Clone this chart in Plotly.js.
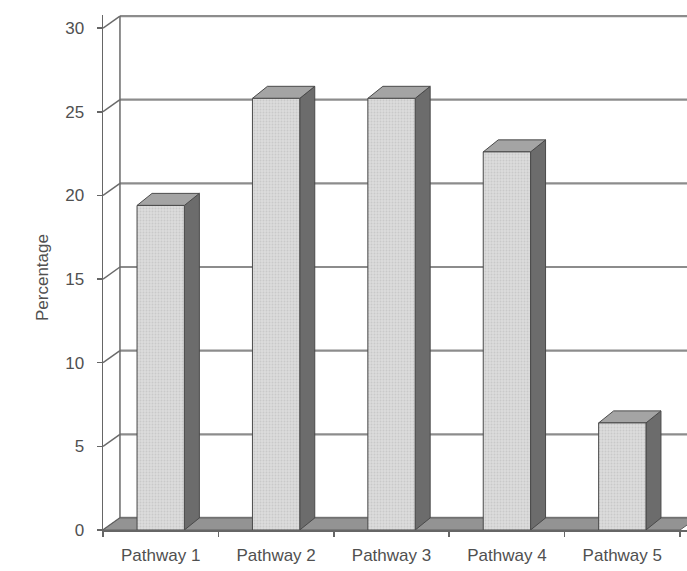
<!DOCTYPE html>
<html>
<head>
<meta charset="utf-8">
<script src="https://cdn.plot.ly/plotly-3.0.1.min.js"></script>
<style>html,body{margin:0;padding:0;background:#fff}#chart{width:687px;height:571px}</style>
</head>
<body>
<div id="chart"></div>
<script>
// ---- data ----
const categories = ['Pathway 1', 'Pathway 2', 'Pathway 3', 'Pathway 4', 'Pathway 5'];
const values = [19.4, 25.8, 25.8, 22.6, 6.4];
const yTickValues = [0, 5, 10, 15, 20, 25, 30];
const yTickLabels = ['0', '5', '10', '15', '20', '25', '30'];

// ---- 3D look (style constants, in axis units) ----
const BAR_W = 0.41;   // front face width
const BDX = 0.13, BDY = 0.72;  // bar depth offset
const WDX = 0.147, WDY = 0.72; // wall depth offset
const X0 = 0.5, X1 = categories.length + 0.5;
const YMAX = yTickValues[yTickValues.length - 1];

const traces = [];
// back wall gridlines
{
  const xs = [], ys = [];
  yTickValues.forEach(v => { xs.push(X0 + WDX, X1 + WDX + 1, null); ys.push(v + WDY, v + WDY, null); });
  traces.push({x: xs, y: ys, mode: 'lines', line: {color: '#8c8c8c', width: 2.2}, hoverinfo: 'skip', showlegend: false});
}
// left wall: slants + back vertical edge
{
  const xs = [], ys = [];
  yTickValues.forEach(v => { xs.push(X0, X0 + WDX, null); ys.push(v, v + WDY, null); });
  xs.push(X0 + WDX, X0 + WDX); ys.push(WDY, YMAX + WDY);
  traces.push({x: xs, y: ys, mode: 'lines', line: {color: '#6a6a6a', width: 1.5}, hoverinfo: 'skip', showlegend: false});
}
// floor
traces.push({x: [X0, X1, X1 + WDX, X0 + WDX, X0], y: [0, 0, WDY, WDY, 0], mode: 'lines', fill: 'toself',
  fillcolor: '#939393', line: {color: '#5e5e5e', width: 1}, hoverinfo: 'skip', showlegend: false});
// bars
values.forEach((v, i) => {
  const c = i + 1, l = c - BAR_W / 2, r = c + BAR_W / 2;
  // side
  traces.push({x: [r, r + BDX, r + BDX, r, r], y: [0, BDY, v + BDY, v, 0], mode: 'lines', fill: 'toself',
    fillcolor: '#6c6c6c', line: {color: '#4a4a4a', width: 1}, hoverinfo: 'skip', showlegend: false});
  // top
  traces.push({x: [l, r, r + BDX, l + BDX, l], y: [v, v, v + BDY, v + BDY, v], mode: 'lines', fill: 'toself',
    fillcolor: '#a4a4a4', line: {color: '#4a4a4a', width: 1}, hoverinfo: 'skip', showlegend: false});
  // front
  traces.push({x: [l, r, r, l, l], y: [0, 0, v, v, 0], mode: 'lines', fill: 'toself',
    fillcolor: '#d8d8d8',
    fillpattern: {shape: '.', bgcolor: '#dcdcdc', fgcolor: '#c9c9c9', size: 3, solidity: 0.3},
    line: {color: '#4a4a4a', width: 1}, name: categories[i], showlegend: false,
    hovertemplate: categories[i] + ': ' + v + '%<extra></extra>'});
});

const pxPerCat = 115.4;
const layout = {
  width: 687, height: 571,
  margin: {l: 103, r: 0, t: 15, b: 41},
  paper_bgcolor: '#ffffff', plot_bgcolor: '#ffffff',
  font: {family: '"Liberation Sans", Arial, sans-serif', size: 17, color: '#505050'},
  xaxis: {
    range: [X0, X0 + 584 / pxPerCat],
    tickmode: 'array', tickvals: categories.map((_, i) => i + 1), ticktext: categories,
    ticks: '', showgrid: false, zeroline: false,
    showline: true, linecolor: '#666', linewidth: 1.5,
    ticklabelstandoff: 9,
    minor: {tickmode: 'array', tickvals: categories.map((_, i) => i + 0.5).concat([X1]),
      ticks: 'outside', ticklen: 5, tickcolor: '#666', tickwidth: 1.5, showgrid: false},
    fixedrange: true
  },
  yaxis: {
    range: [0, 515 / 16.73],
    tickmode: 'array', tickvals: yTickValues, ticktext: yTickLabels,
    ticks: 'outside', ticklen: 5, tickcolor: '#666', tickwidth: 1.5,
    showgrid: false, zeroline: false,
    showline: true, linecolor: '#666', linewidth: 1.5,
    ticklabelstandoff: 9,
    fixedrange: true
  },
  annotations: [{
    text: 'Percentage', textangle: -90, showarrow: false,
    xref: 'paper', yref: 'paper', x: (42 - 103) / 584, y: (530 - 278) / 515,
    xanchor: 'center', yanchor: 'middle', font: {size: 17, color: '#505050'}
  }]
};
Plotly.newPlot('chart', traces, layout, {displayModeBar: false, staticPlot: true});
</script>
</body>
</html>
